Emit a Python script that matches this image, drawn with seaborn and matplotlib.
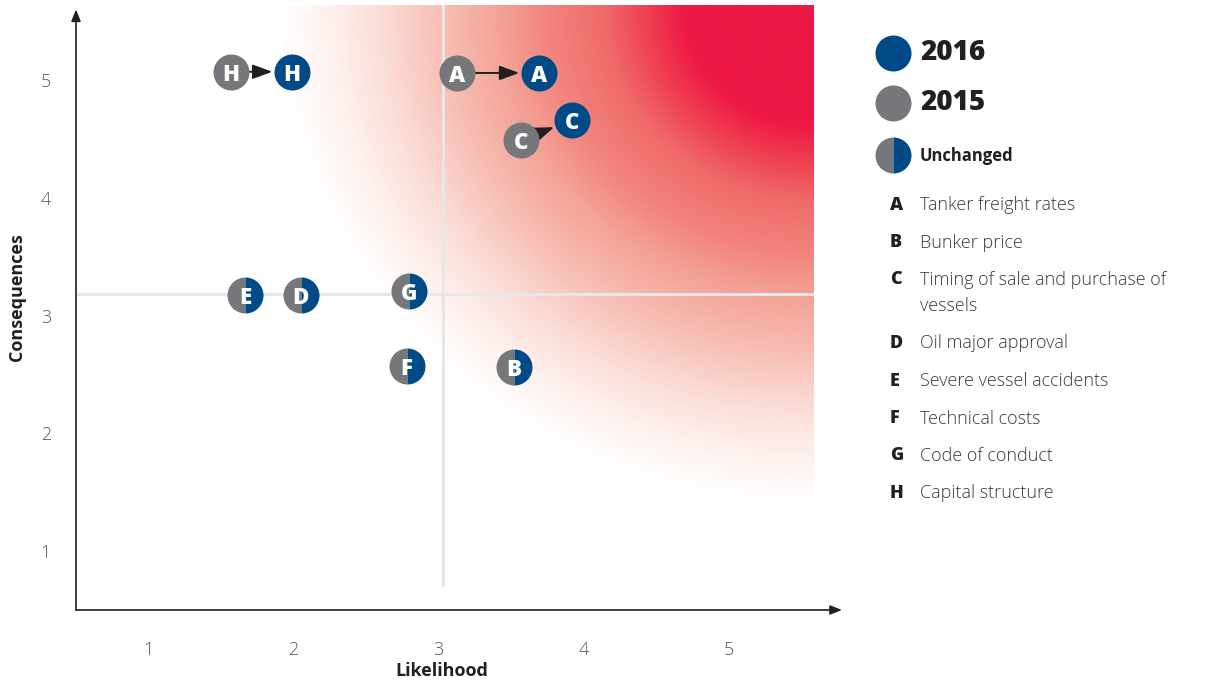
import numpy as np
import pandas as pd
import matplotlib
matplotlib.use("Agg")
import matplotlib.pyplot as plt
from matplotlib.markers import MarkerStyle
from matplotlib.colors import LinearSegmentedColormap
import seaborn as sns

# risk map data
codes = ["A", "B", "C", "D", "E", "F", "G", "H"]
risk_names = ["Tanker freight rates", "Bunker price",
              "Timing of sale and purchase of\nvessels", "Oil major approval",
              "Severe vessel accidents", "Technical costs", "Code of conduct",
              "Capital structure"]
x_2015 = [3.13, 3.52, 3.57, 2.05, 1.67, 2.78, 2.80, 1.57]
y_2015 = [5.06, 2.56, 4.49, 3.17, 3.17, 2.57, 3.21, 5.07]
x_2016 = [3.69, 3.52, 3.92, 2.05, 1.67, 2.78, 2.80, 1.99]
y_2016 = [5.06, 2.56, 4.66, 3.17, 3.17, 2.57, 3.21, 5.07]
tick_values = [1, 2, 3, 4, 5]
x_split = 3.03
y_split = 3.18

BLUE = "#004A87"
GREY = "#76777B"
INK = "#231F20"

# coral glow, dense red in the corner fading out to white
glow = LinearSegmentedColormap.from_list("glow", [
    (0.00, "#EE1846"), (0.24, "#EE1846"), (0.32, "#EE4452"), (0.39, "#F06A6A"),
    (0.50, "#F2857D"), (0.58, "#F4A095"), (0.70, "#F7BFB5"), (0.81, "#FBDDD7"),
    (0.91, "#FEF2EF"), (1.00, "#FFFFFF")])

sns.set_style("white")
plt.rcParams["font.family"] = ["Open Sans", "DejaVu Sans"]

W, H = 1231, 680
fig = plt.figure(figsize=(W / 100, H / 100), dpi=100)


def fx(px):
    return px / W


def fy(py):
    return 1 - py / H


ax = fig.add_axes([fx(76), fy(610), fx(842) - fx(76), fy(5) - fy(610)])
x_lo, x_hi = 0.504, 5.778
y_lo, y_hi = 0.499, 5.637
ax.set_xlim(x_lo, x_hi)
ax.set_ylim(y_lo, y_hi)
sns.despine(ax=ax, left=True, bottom=True)

# radial glow from the top-right corner
gx_hi = 5.58
gx = np.linspace(x_lo, gx_hi, 500)
gy = np.linspace(y_lo, y_hi, 500)
XX, YY = np.meshgrid(gx, gy)
dx = (gx_hi - XX) * 145.25
dy = (y_hi - YY) * 117.75
r = np.clip(np.sqrt((dx / 535) ** 2 + (dy / 500) ** 2), 0, 1)
ax.imshow(r, cmap=glow, vmin=0, vmax=1, extent=(x_lo, gx_hi, y_lo, y_hi),
          origin="lower", aspect="auto", interpolation="bilinear", zorder=0)

# quadrant lines
ax.plot([x_split, x_split], [0.71, y_hi], color="#E6E7E8", lw=2.2, zorder=1)
ax.plot([x_lo, gx_hi], [y_split, y_split], color="#E6E7E8", lw=2.2, zorder=1)

# axis arrows
ax.annotate("", xy=(x_hi, y_lo), xytext=(x_lo, y_lo), annotation_clip=False,
            arrowprops=dict(arrowstyle="-|>,head_length=0.5,head_width=0.2",
                            color=INK, lw=1.2, mutation_scale=14, shrinkA=0, shrinkB=0))
ax.annotate("", xy=(x_lo, 5.6), xytext=(x_lo, y_lo), annotation_clip=False,
            arrowprops=dict(arrowstyle="-|>,head_length=0.5,head_width=0.2",
                            color=INK, lw=1.2, mutation_scale=14, shrinkA=0, shrinkB=0))

ax.set_xticks(tick_values)
ax.set_yticks(tick_values)
ax.tick_params(axis="x", length=0, pad=22, labelsize=13, labelcolor="#58595B")
ax.tick_params(axis="y", length=0, pad=18, labelsize=13, labelcolor="#58595B")
for lab in ax.get_xticklabels() + ax.get_yticklabels():
    lab.set_fontweight("light")
fig.text(fx(442), fy(671), "Likelihood", ha="center", va="center",
         fontsize=13, fontweight="bold", color=INK)
fig.text(fx(17), fy(297), "Consequences", ha="center", va="center", rotation=90,
         fontsize=13, fontweight="bold", color=INK)

df = pd.DataFrame({"code": codes, "x15": x_2015, "y15": y_2015,
                   "x16": x_2016, "y16": y_2016})
df["same"] = (df["x15"] == df["x16"]) & (df["y15"] == df["y16"])
moved = df[~df["same"]]
kept = df[df["same"]]

size = 672
# movement arrows
for _, row in moved.iterrows():
    ax.annotate("", xy=(row["x16"], row["y16"]), xytext=(row["x15"], row["y15"]),
                arrowprops=dict(arrowstyle="-|>,head_length=0.6,head_width=0.22",
                                color=INK, lw=1.4, mutation_scale=20,
                                shrinkA=13, shrinkB=14), zorder=2)

sns.scatterplot(data=moved, x="x15", y="y15", color=GREY, s=size, linewidth=0,
                ax=ax, zorder=3)
sns.scatterplot(data=moved, x="x16", y="y16", color=BLUE, s=size, linewidth=0,
                ax=ax, zorder=3)
sns.scatterplot(data=kept, x="x15", y="y15", color=GREY, s=size, linewidth=0,
                marker=MarkerStyle("o", fillstyle="left"), ax=ax, zorder=3)
sns.scatterplot(data=kept, x="x16", y="y16", color=BLUE, s=size, linewidth=0,
                marker=MarkerStyle("o", fillstyle="right"), ax=ax, zorder=3)
ax.set_xlabel("")
ax.set_ylabel("")

for _, row in moved.iterrows():
    ax.text(row["x15"], row["y15"], row["code"], ha="center", va="center_baseline",
            color="white", fontsize=16, fontweight="heavy", zorder=4)
for _, row in df.iterrows():
    ax.text(row["x16"], row["y16"], row["code"], ha="center", va="center_baseline",
            color="white", fontsize=16, fontweight="heavy", zorder=4)

# legend panel on the right, laid out in pixels
lax = fig.add_axes([0, 0, 1, 1])
lax.set_xlim(0, W)
lax.set_ylim(H, 0)
lax.axis("off")
lax.scatter([893], [53], s=size, color=BLUE, linewidth=0)
lax.scatter([893], [103], s=size, color=GREY, linewidth=0)
lax.scatter([893], [155], s=size, color=GREY, linewidth=0,
            marker=MarkerStyle("o", fillstyle="left"))
lax.scatter([893], [155], s=size, color=BLUE, linewidth=0,
            marker=MarkerStyle("o", fillstyle="right"))
lax.text(920, 53, "2016", ha="left", va="center", fontsize=20, fontweight="heavy", color=INK)
lax.text(920, 103, "2015", ha="left", va="center", fontsize=20, fontweight="heavy", color=INK)
lax.text(920, 156, "Unchanged", ha="left", va="center", fontsize=12, fontweight="bold", color=INK)

row_y = 205
for code, name in zip(codes, risk_names):
    lines = name.split("\n")
    lax.text(890, row_y, code, ha="left", va="center", fontsize=13,
             fontweight="heavy", color=INK)
    for i, line in enumerate(lines):
        lax.text(920, row_y + i * 26, line, ha="left", va="center", fontsize=13,
                 fontweight="light", color="#3A3A3C")
    row_y += 37.5 + (len(lines) - 1) * 26

fig.savefig("out.png", dpi=100)
